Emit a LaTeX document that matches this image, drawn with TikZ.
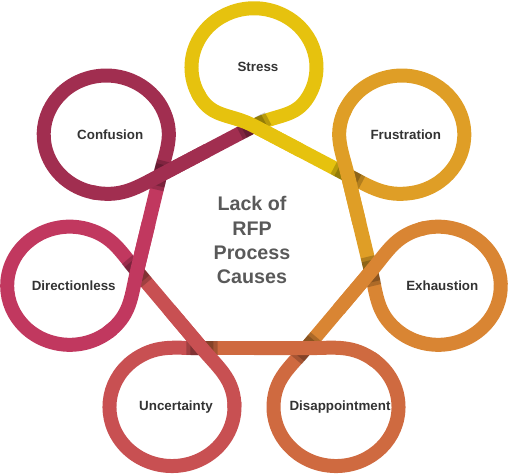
\documentclass[tikz,border=0pt]{standalone}
\usepackage{fontspec}
\setmainfont{Liberation Sans}
\usetikzlibrary{calc}
\definecolor{cStress}{HTML}{E6C20E}
\definecolor{cFrustration}{HTML}{DF9E26}
\definecolor{cExhaustion}{HTML}{D98533}
\definecolor{cDisappointment}{HTML}{CF6A40}
\definecolor{cUncertainty}{HTML}{C85052}
\definecolor{cDirectionless}{HTML}{C1385F}
\definecolor{cConfusion}{HTML}{A12E50}
\definecolor{labelgray}{HTML}{333333}
\definecolor{titlegray}{HTML}{595959}
\tikzset{
  band/.style={line width=0.28cm},
  crossshadow/.style={line width=0.28cm, draw=black, opacity=0.2},
  lbl/.style={font=\bfseries\fontsize{7.6}{9}\selectfont, text=labelgray},
  titletext/.style={font=\bfseries\fontsize{11.2}{13.8}\selectfont, text=titlegray, align=center},
}
\begin{document}
\begin{tikzpicture}[x=0.02cm, y=0.0189cm]
  \useasboundingbox (-5.08cm,-4.56cm) rectangle (5.14cm,4.92cm);
  % heptagon corners and loop centres
  \foreach \i in {0,...,6}{
    \pgfmathsetmacro\a{90-51.4286*\i}
    \pgfmathsetmacro\vr{ifthenelse(\i==0,127,120)}
    \coordinate (v\i) at (\a:\vr);
    \coordinate (c\i) at (\a:189);
    \coordinate (p\i) at ($(c\i)+(\a-120:62.5)$);
    \coordinate (q\i) at ($(c\i)+(\a+120:62.5)$);
  }
  % sides and loop bodies
  \foreach \i/\col in {0/cStress, 1/cFrustration, 2/cExhaustion, 3/cDisappointment,
                       4/cUncertainty, 5/cDirectionless, 6/cConfusion}{
    \pgfmathsetmacro\a{90-51.4286*\i}
    \pgfmathtruncatemacro\pv{mod(\i+6,7)}
    \pgfmathtruncatemacro\nx{mod(\i+1,7)}
    \draw[band, draw=\col] (v\i) -- (v\nx);
    \draw[band, draw=\col] (v\i) .. controls ($(v\i)!-0.25!(v\pv)$) and ($(p\i)+(\a+150:26)$) .. (p\i)
      arc[start angle=\a-120, end angle=\a+120, radius=62.5];
  }
  % returning tails on top, with a soft shadow
  \foreach \i/\col in {0/cStress, 1/cFrustration, 2/cExhaustion, 3/cDisappointment,
                       4/cUncertainty, 5/cDirectionless, 6/cConfusion}{
    \pgfmathsetmacro\a{90-51.4286*\i}
    \pgfmathtruncatemacro\pv{mod(\i+6,7)}
    \pgfmathtruncatemacro\nx{mod(\i+1,7)}
    \draw[crossshadow] ($(v\i)!0.15!(v\pv)$) -- ($(v\i)!-0.15!(v\pv)$);
    \draw[crossshadow] ($(v\i)!0.11!(v\pv)$) -- ($(v\i)!-0.11!(v\pv)$);
    \draw[band, draw=\col] ($(c\i)+(\a+115:62.5)$) arc[start angle=\a+115, end angle=\a+120, radius=62.5]
      .. controls ($(q\i)+(\a-150:26)$) and ($(v\i)!-0.25!(v\nx)$) .. (v\i) -- ($(v\i)!0.5!(v\nx)$);
  }
  % loop labels
  \foreach \i/\name in {0/Stress, 1/Frustration, 2/Exhaustion, 3/Disappointment,
                        4/Uncertainty, 5/Directionless, 6/Confusion}
    \node[lbl] (t\i) at ($(c\i)+(4,0)$) {\name};
  % centre title
  \node[titletext] (title) at (-2,6) {Lack of\\RFP\\Process\\Causes};
\end{tikzpicture}
\end{document}
